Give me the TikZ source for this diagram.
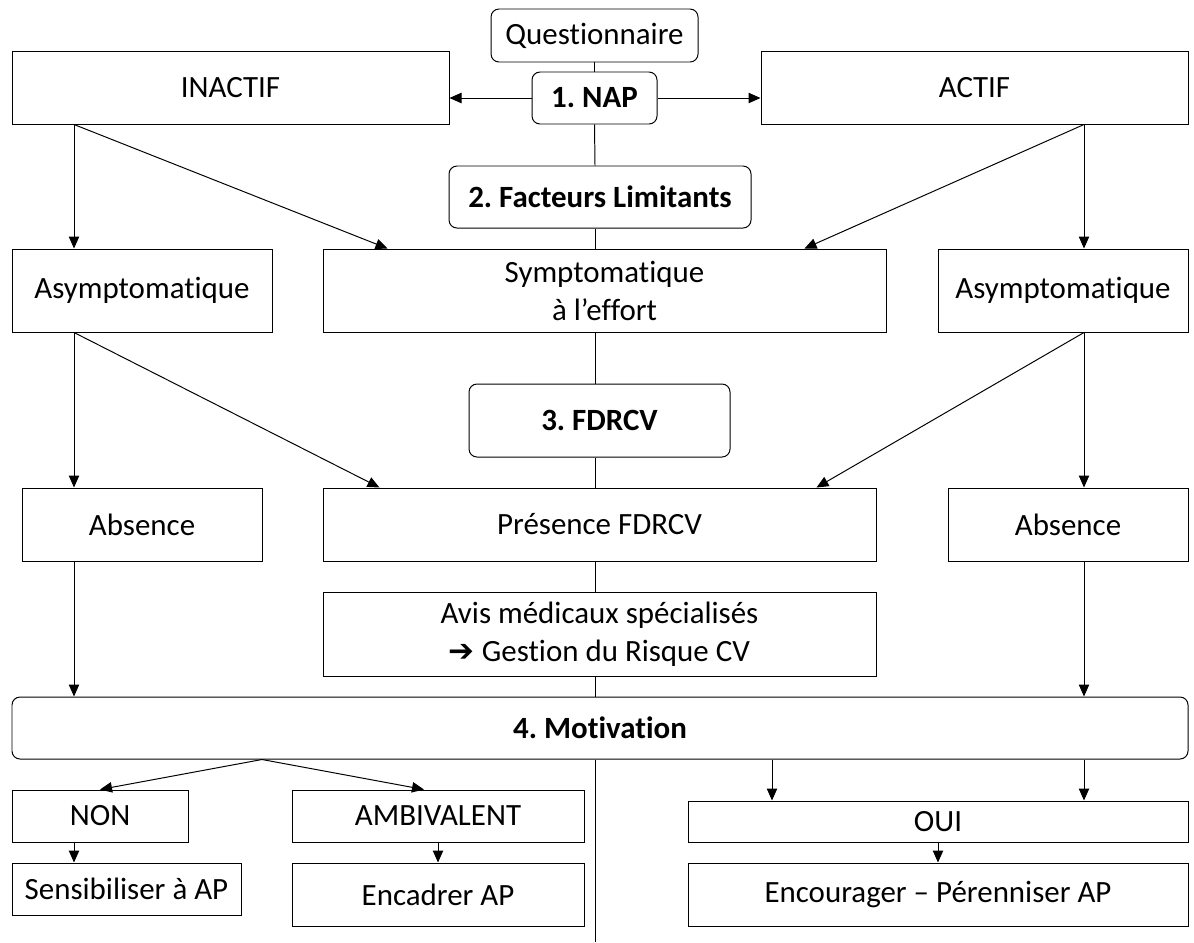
\documentclass[tikz,border=0pt]{standalone}
\usepackage{fontspec}
\setmainfont[Ligatures={NoCommon}]{Carlito}
\newfontfamily\dingfont{DejaVu Sans}
\usetikzlibrary{arrows.meta}
\newcommand{\px}{0.025cm}
\frenchspacing
\begin{document}
\begin{tikzpicture}[x=\px, y=-\px,
  box/.style={draw, line width=0.7pt, inner sep=0pt, align=center, font=\fontsize{22}{27}\selectfont},
  rbox/.style={box, rounded corners=0.2cm},
  bold/.style={font=\fontsize{22}{27}\selectfont\bfseries},
  wh/.style 2 args={minimum width=#1*\px, minimum height=#2*\px},
  link/.style={line width=0.7pt},
  arr/.style={link, -{Triangle[length=0.3cm, width=0.26cm]}}]
\useasboundingbox (0,0) rectangle (1194,942);
\coordinate (lcol) at (74,0);
\coordinate (rcol) at (1084,0);
\coordinate (axis) at (595,0);
\coordinate (fork) at (262,0);
\coordinate (ouil) at (772,0);
\coordinate (axisend) at (595,942);

\node[rbox, wh={207}{53}] (quest) at (594.5,35.5) {Questionnaire};
\node[rbox, bold, wh={125}{52}] (nap) at (594.5,98) {1. NAP};
\node[box, wh={437}{73}] (inactif) at (230.5,87.5) {INACTIF};
\node[box, wh={427}{73}] (actif) at (974.5,87.5) {ACTIF};
\node[rbox, bold, wh={302}{62}] (facteurs) at (600,197) {2. Facteurs Limitants};
\node[box, wh={260}{83}] (asyml) at (142,290.5) {Asymptomatique};
\node[box, wh={563}{83}] (sympto) at (604.5,290.5) {Symptomatique\\à l’effort};
\node[box, wh={250}{83}] (asymr) at (1063,290.5) {Asymptomatique};
\node[rbox, bold, wh={261}{73}] (fdrcv) at (599.5,420.5) {3. FDRCV};
\node[box, wh={240}{73}] (absl) at (142,524.5) {Absence};
\node[box, wh={553}{73}] (presence) at (599.5,524.5) {Présence FDRCV};
\node[box, wh={240}{73}] (absr) at (1068,524.5) {Absence};
\node[box, wh={553}{84}] (avis) at (599.5,634) {Avis médicaux spécialisés\\{\dingfont\bfseries ➔} Gestion du Risque CV};
\node[rbox, bold, wh={1176}{62}] (motiv) at (600,728) {4. Motivation};
\node[box, wh={176}{52}] (non) at (100,816) {NON};
\node[box, wh={292}{52}] (ambi) at (438,816) {AMBIVALENT};
\node[box, wh={500}{41}] (oui) at (938,821.5) {OUI};
\node[box, wh={229}{52}] (sensib) at (126.5,889) {Sensibiliser à AP};
\node[box, wh={292}{63}] (encadrer) at (438,894.5) {Encadrer AP};
\node[box, wh={500}{63}] (encourager) at (938,894.5) {Encourager – Pérenniser AP};

\draw[arr] (nap.west) -- (nap.west -| inactif.east);
\draw[arr] (nap.east) -- (nap.east -| actif.west);
\draw[link] (quest.south) -- (nap.north);
\draw[link] (nap.south) -- (facteurs.north -| axis);
\draw[link] (facteurs.south -| axis) -- (sympto.north -| axis);
\draw[link] (sympto.south -| axis) -- (fdrcv.north -| axis);
\draw[link] (fdrcv.south -| axis) -- (presence.north -| axis);
\draw[link] (presence.south -| axis) -- (avis.north -| axis);
\draw[link] (avis.south -| axis) -- (motiv.north -| axis);
\draw[link] (motiv.south -| axis) -- (axisend);

\draw[arr] (inactif.south -| lcol) -- (asyml.north -| lcol);
\draw[arr] (inactif.south -| lcol) -- ([xshift=65*\px]sympto.north west);
\draw[arr] (actif.south -| rcol) -- (asymr.north -| rcol);
\draw[arr] (actif.south -| rcol) -- ([xshift=-82*\px]sympto.north east);
\draw[arr] (asyml.south -| lcol) -- (absl.north -| lcol);
\draw[arr] (asyml.south -| lcol) -- ([xshift=57*\px]presence.north west);
\draw[arr] (asymr.south -| rcol) -- (absr.north -| rcol);
\draw[arr] (asymr.south -| rcol) -- ([xshift=-60*\px]presence.north east);
\draw[arr] (absl.south -| lcol) -- (motiv.north -| lcol);
\draw[arr] (absr.south -| rcol) -- (motiv.north -| rcol);

\draw[arr] (motiv.south -| fork) -- (non.north);
\draw[arr] (motiv.south -| fork) -- ([xshift=-14*\px]ambi.north);
\draw[arr] (motiv.south -| ouil) -- (oui.north -| ouil);
\draw[arr] (motiv.south -| rcol) -- (oui.north -| rcol);
\draw[arr] (non.south -| lcol) -- (sensib.north -| lcol);
\draw[arr] (ambi.south) -- (encadrer.north);
\draw[arr] (oui.south) -- (encourager.north);
\end{tikzpicture}
\end{document}
